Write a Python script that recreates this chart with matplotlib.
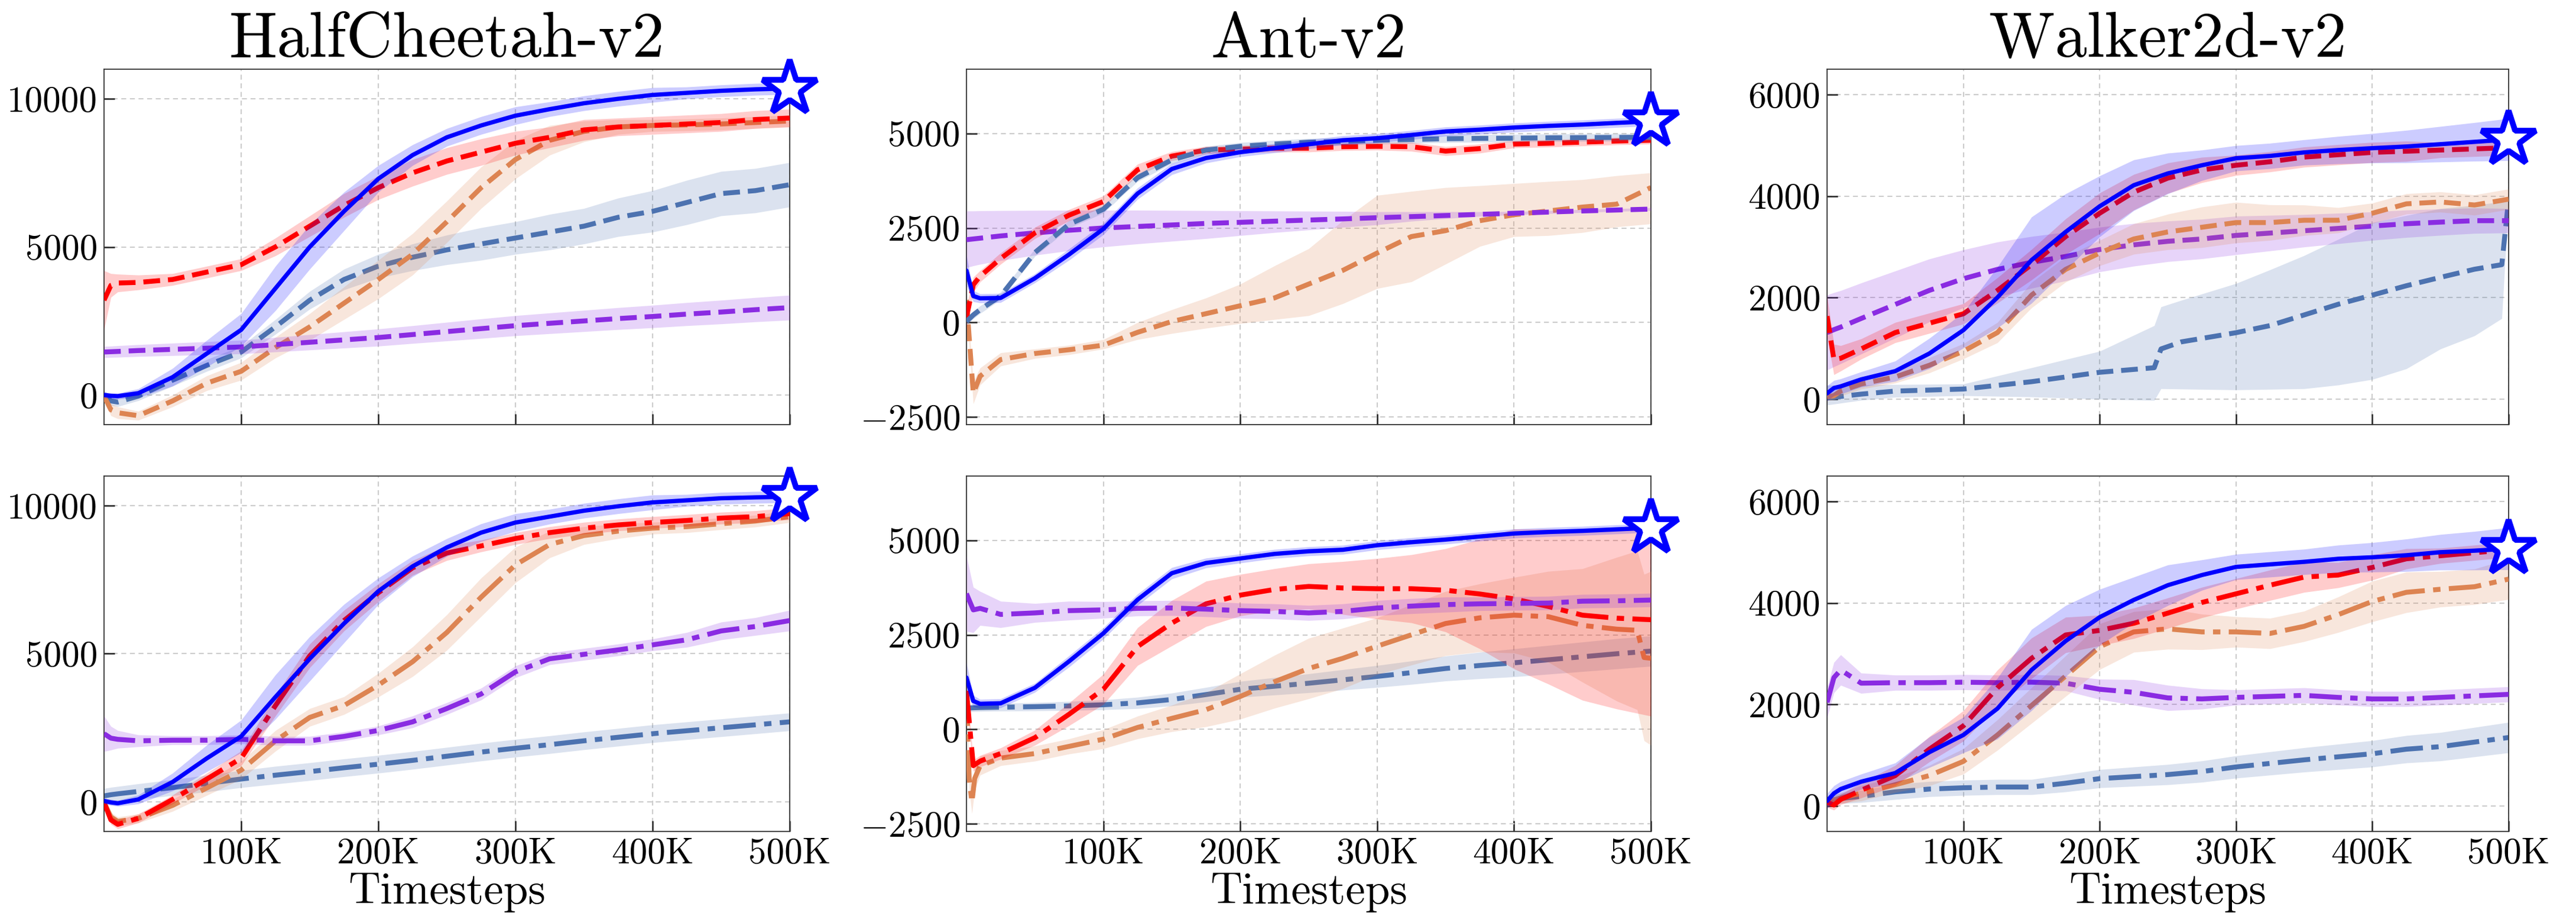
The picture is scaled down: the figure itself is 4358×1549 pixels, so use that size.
import numpy as np
import matplotlib
matplotlib.use("Agg")
import matplotlib.pyplot as plt

plt.rcParams.update({
    "font.family": "cmr10",
    "mathtext.fontset": "cm",
    "axes.unicode_minus": False,
})

# ---------------- data (x in thousands of timesteps) ----------------
G = [0, 5, 10, 25, 50, 75, 100, 125, 150, 175, 200, 225, 250, 275, 300, 325, 350, 375, 400, 425, 450, 475, 500]

TITLES = ["HalfCheetah-v2", "Ant-v2", "Walker2d-v2"]
XTICKS = [100, 200, 300, 400, 500]
XTICKLABELS = ["100K", "200K", "300K", "400K", "500K"]
HC_YTICKS = [0, 5000, 10000]
HC_YLABELS = ["0", "5000", "10000"]
AN_YTICKS = [-2500, 0, 2500, 5000]
AN_YLABELS = ["$-$2500", "0", "2500", "5000"]
WK_YTICKS = [0, 2000, 4000, 6000]
WK_YLABELS = ["0", "2000", "4000", "6000"]
HC_YLIM = (-1000, 11000)
AN_YLIM = (-2700, 6700)
WK_YLIM = (-500, 6500)

# HalfCheetah, top row
HC1_OURS = [0, -30, -40, 60, 600, 1400, 2200, 3600, 5000, 6200, 7300, 8100, 8700, 9100, 9430, 9650, 9850, 10000, 10130, 10200, 10270, 10320, 10350]
HC1_OURS_SD = [100, 100, 100, 150, 300, 450, 550, 750, 750, 650, 450, 350, 300, 300, 300, 250, 250, 250, 250, 200, 200, 200, 200]
HC1_RED = [3200, 3700, 3780, 3800, 3900, 4150, 4400, 5000, 5700, 6400, 7000, 7500, 7900, 8200, 8500, 8700, 8950, 9050, 9100, 9150, 9200, 9300, 9350]
HC1_RED_SD = [1000, 400, 300, 250, 200, 200, 200, 300, 350, 400, 400, 450, 450, 450, 400, 350, 350, 300, 300, 300, 300, 300, 300]
HC1_STEEL = [0, -200, -240, -40, 500, 1000, 1450, 2300, 3200, 3900, 4350, 4650, 4900, 5100, 5300, 5500, 5700, 6000, 6200, 6500, 6800, 6900, 7100]
HC1_STEEL_SD = [150, 150, 150, 150, 200, 200, 200, 250, 300, 350, 400, 450, 500, 550, 550, 600, 600, 650, 700, 750, 750, 750, 750]
HC1_ORANGE = [-40, -500, -600, -700, -200, 400, 800, 1600, 2300, 3100, 3900, 4750, 5850, 7000, 7950, 8600, 8900, 9050, 9100, 9120, 9150, 9200, 9250]
HC1_ORANGE_SD = [150, 200, 200, 150, 200, 250, 300, 350, 450, 550, 650, 700, 700, 700, 650, 500, 350, 250, 200, 200, 200, 200, 200]
HC1_PURPLE = [1450, 1460, 1470, 1500, 1540, 1580, 1620, 1700, 1780, 1860, 1940, 2040, 2140, 2240, 2340, 2420, 2500, 2580, 2650, 2730, 2800, 2880, 2950]
HC1_PURPLE_SD = [190, 190, 195, 200, 210, 220, 230, 245, 260, 275, 290, 300, 315, 330, 340, 350, 360, 370, 380, 390, 400, 410, 420]

# HalfCheetah, bottom row
HC2_OURS = [30, -20, -50, 80, 670, 1470, 2210, 3540, 4830, 6020, 7110, 7950, 8590, 9090, 9430, 9630, 9830, 9980, 10110, 10180, 10250, 10280, 10300]
HC2_OURS_SD = [100, 100, 100, 150, 300, 450, 550, 750, 750, 650, 450, 350, 300, 300, 300, 250, 250, 250, 250, 200, 200, 200, 200]
HC2_RED = [-20, -610, -760, -560, 80, 770, 1470, 3250, 4930, 6120, 7060, 7900, 8400, 8640, 8890, 9090, 9240, 9350, 9430, 9500, 9580, 9630, 9730]
HC2_RED_SD = [100, 150, 150, 150, 150, 200, 250, 350, 400, 350, 300, 250, 250, 200, 200, 200, 200, 200, 200, 200, 200, 200, 200]
HC2_STEEL = [200, 240, 270, 350, 480, 620, 770, 900, 1020, 1150, 1270, 1400, 1540, 1680, 1810, 1930, 2060, 2180, 2300, 2400, 2500, 2600, 2700]
HC2_STEEL_SD = [250, 250, 250, 260, 270, 280, 290, 300, 300, 300, 300, 300, 300, 300, 300, 300, 300, 300, 300, 300, 300, 300, 300]
HC2_ORANGE = [-20, -510, -660, -560, -120, 470, 1070, 2060, 2850, 3250, 3940, 4730, 5720, 6910, 8000, 8690, 8990, 9140, 9240, 9290, 9390, 9480, 9630]
HC2_ORANGE_SD = [100, 150, 150, 150, 200, 250, 300, 350, 300, 300, 400, 500, 600, 650, 600, 450, 300, 250, 200, 200, 200, 200, 200]
HC2_PURPLE = [2300, 2150, 2110, 2060, 2080, 2080, 2110, 2060, 2060, 2210, 2410, 2700, 3150, 3640, 4390, 4830, 4980, 5130, 5300, 5470, 5770, 5920, 6120]
HC2_PURPLE_SD = [600, 400, 300, 200, 150, 150, 150, 150, 150, 150, 150, 200, 200, 200, 200, 200, 200, 200, 200, 250, 300, 300, 350]

# Ant, top row
AN1_OURS = [1375, 700, 640, 650, 1170, 1800, 2475, 3410, 4060, 4350, 4505, 4610, 4715, 4820, 4875, 4960, 5053, 5100, 5157, 5200, 5235, 5280, 5320]
AN1_OURS_SD = [400, 150, 120, 120, 120, 150, 150, 150, 150, 130, 120, 120, 120, 120, 120, 120, 120, 120, 120, 120, 120, 120, 120]
AN1_RED = [130, 1000, 1224, 1693, 2370, 2840, 3200, 4040, 4400, 4560, 4585, 4610, 4610, 4650, 4660, 4650, 4533, 4600, 4720, 4740, 4770, 4800, 4820]
AN1_RED_SD = [300, 200, 150, 150, 150, 150, 150, 150, 120, 100, 100, 100, 100, 100, 100, 120, 120, 120, 100, 100, 100, 100, 100]
AN1_STEEL = [26, 200, 340, 703, 1850, 2600, 2995, 3830, 4300, 4560, 4660, 4720, 4770, 4790, 4820, 4840, 4860, 4870, 4875, 4885, 4890, 4895, 4900]
AN1_STEEL_SD = [100, 100, 100, 100, 100, 100, 100, 100, 100, 100, 100, 100, 100, 100, 100, 100, 100, 100, 100, 100, 100, 100, 100]
AN1_ORANGE = [600, -1870, -1420, -980, -820, -720, -600, -260, 26, 234, 443, 650, 1016, 1380, 1837, 2273, 2430, 2693, 2850, 2950, 3053, 3130, 3570]
AN1_ORANGE_LO = [300, -2150, -1650, -1150, -950, -850, -700, -450, -290, -150, -26, 80, 182, 500, 900, 1077, 1545, 2013, 2273, 2300, 2380, 2530, 2610]
AN1_ORANGE_HI = [900, -1550, -1200, -800, -700, -600, -450, 0, 340, 650, 1016, 1500, 1954, 2700, 3364, 3470, 3570, 3620, 3676, 3730, 3780, 3884, 3960]
AN1_PURPLE = [2190, 2210, 2230, 2290, 2370, 2440, 2500, 2540, 2580, 2620, 2650, 2680, 2710, 2740, 2772, 2800, 2830, 2860, 2890, 2920, 2950, 2975, 3000]
AN1_PURPLE_LO = [1450, 1500, 1540, 1640, 1780, 1900, 2000, 2080, 2150, 2220, 2300, 2380, 2450, 2520, 2585, 2680, 2750, 2810, 2850, 2880, 2910, 2940, 2960]
AN1_PURPLE_HI = [2950, 2950, 2955, 2960, 2965, 2970, 2970, 2970, 2965, 2960, 2955, 2950, 2945, 2940, 2930, 2930, 2930, 2930, 2935, 2960, 2990, 3010, 3040]

# Ant, bottom row
AN2_OURS = [1370, 750, 675, 690, 1100, 1800, 2540, 3430, 4130, 4400, 4520, 4640, 4710, 4750, 4870, 4950, 5020, 5100, 5180, 5220, 5250, 5290, 5330]
AN2_OURS_SD = [400, 150, 120, 120, 120, 150, 150, 150, 150, 130, 120, 120, 120, 120, 120, 120, 120, 120, 120, 120, 120, 120, 120]
AN2_RED = [1020, -960, -840, -640, -220, 400, 1060, 2190, 2810, 3320, 3550, 3700, 3780, 3740, 3720, 3720, 3680, 3580, 3450, 3250, 3020, 2940, 2900]
AN2_RED_SD = [200, 150, 150, 150, 200, 300, 400, 500, 600, 600, 550, 550, 600, 700, 800, 900, 1100, 1450, 1850, 2050, 2250, 2400, 2550]
AN2_STEEL = [560, 570, 575, 585, 600, 620, 650, 700, 790, 920, 1060, 1140, 1220, 1310, 1400, 1500, 1610, 1690, 1760, 1840, 1920, 2000, 2070]
AN2_STEEL_SD = [100, 100, 100, 100, 110, 120, 130, 150, 170, 190, 210, 230, 250, 270, 290, 310, 330, 350, 370, 380, 390, 400, 400]
AN2_ORANGE_X = [0, 2, 4, 6, 10, 25, 50, 75, 100, 125, 150, 175, 200, 225, 250, 275, 300, 325, 350, 375, 400, 425, 450, 475, 490, 495, 500]
AN2_ORANGE = [950, -1300, -1930, -1300, -960, -760, -640, -450, -260, 50, 290, 520, 870, 1260, 1610, 1880, 2200, 2500, 2800, 2950, 3020, 2980, 2750, 2650, 2620, 1900, 1880]
AN2_ORANGE_SD = [300, 300, 300, 300, 250, 200, 200, 200, 250, 300, 350, 450, 600, 700, 800, 800, 750, 800, 850, 900, 1000, 1200, 1500, 1900, 2100, 2200, 2300]
AN2_PURPLE = [3590, 3160, 3200, 3040, 3080, 3140, 3160, 3200, 3210, 3180, 3140, 3120, 3080, 3120, 3210, 3260, 3300, 3320, 3330, 3340, 3390, 3400, 3420]
AN2_PURPLE_SD = [1000, 600, 450, 350, 250, 250, 220, 200, 200, 200, 200, 200, 200, 200, 200, 200, 200, 180, 180, 180, 180, 180, 180]

# Walker2d, top row
WK1_OURS = [115, 220, 253, 390, 553, 900, 1360, 2005, 2740, 3295, 3800, 4215, 4447, 4608, 4746, 4792, 4861, 4907, 4944, 4977, 5023, 5069, 5115]
WK1_OURS_SD = [150, 150, 150, 150, 200, 300, 350, 600, 850, 750, 600, 500, 400, 300, 250, 250, 250, 270, 290, 320, 350, 380, 415]
WK1_RED = [1635, 783, 806, 990, 1313, 1497, 1682, 2143, 2650, 3203, 3663, 4078, 4355, 4516, 4608, 4677, 4769, 4815, 4861, 4884, 4907, 4930, 4954]
WK1_RED_SD = [400, 300, 250, 200, 200, 200, 200, 250, 300, 350, 400, 350, 300, 250, 200, 200, 200, 200, 200, 200, 150, 150, 150]
WK1_STEEL_X = [0, 25, 50, 100, 150, 200, 240, 245, 260, 300, 325, 350, 375, 400, 425, 450, 475, 495, 500]
WK1_STEEL = [23, 100, 160, 200, 345, 530, 620, 990, 1130, 1310, 1450, 1660, 1870, 2050, 2235, 2400, 2560, 2650, 3940]
WK1_STEEL_LO = [-115, -20, 40, 70, 46, 0, -23, 207, 200, 184, 195, 207, 280, 390, 600, 990, 1250, 1590, 3940]
WK1_STEEL_HI = [276, 280, 290, 300, 620, 945, 1450, 1820, 1950, 2280, 2550, 2830, 3150, 3480, 3620, 3755, 3820, 3890, 3940]
WK1_ORANGE = [46, 69, 161, 300, 438, 668, 945, 1313, 2050, 2557, 2880, 3156, 3295, 3387, 3479, 3479, 3525, 3525, 3663, 3848, 3885, 3825, 3940]
WK1_ORANGE_SD = [80, 80, 100, 100, 120, 150, 150, 200, 250, 250, 250, 300, 350, 400, 400, 350, 300, 250, 200, 200, 200, 200, 200]
WK1_PURPLE = [1313, 1370, 1420, 1590, 1866, 2143, 2373, 2557, 2696, 2811, 2949, 3041, 3110, 3156, 3226, 3272, 3318, 3364, 3410, 3456, 3488, 3516, 3516]
WK1_PURPLE_SD = [740, 730, 720, 700, 660, 620, 570, 540, 510, 480, 440, 420, 400, 390, 380, 350, 320, 300, 280, 270, 260, 250, 240]

# Walker2d, bottom row
WK2_OURS = [100, 250, 335, 480, 650, 1060, 1400, 1920, 2680, 3250, 3720, 4060, 4350, 4550, 4710, 4760, 4810, 4870, 4900, 4940, 5000, 5030, 5070]
WK2_OURS_SD = [150, 150, 150, 150, 200, 300, 350, 600, 800, 700, 550, 450, 400, 300, 250, 250, 250, 270, 290, 320, 350, 380, 415]
WK2_RED = [75, 20, 130, 310, 600, 1120, 1580, 2330, 2910, 3370, 3460, 3600, 3800, 4010, 4180, 4350, 4510, 4550, 4700, 4870, 4930, 4990, 5050]
WK2_RED_SD = [100, 100, 100, 150, 200, 250, 300, 350, 400, 350, 300, 300, 300, 300, 300, 300, 300, 250, 250, 200, 150, 150, 150]
WK2_STEEL = [75, 120, 150, 190, 280, 335, 360, 375, 375, 450, 540, 580, 620, 680, 770, 840, 910, 970, 1030, 1120, 1170, 1260, 1350]
WK2_STEEL_SD = [100, 100, 100, 120, 150, 150, 150, 150, 150, 170, 180, 190, 200, 210, 220, 230, 240, 250, 260, 270, 280, 290, 300]
WK2_ORANGE = [75, 120, 160, 250, 420, 600, 880, 1400, 1980, 2560, 3140, 3430, 3490, 3430, 3430, 3400, 3540, 3770, 4030, 4210, 4270, 4320, 4470]
WK2_ORANGE_SD = [80, 100, 100, 150, 150, 200, 250, 300, 350, 400, 450, 400, 400, 350, 300, 300, 300, 350, 400, 400, 350, 350, 400]
WK2_PURPLE = [2040, 2530, 2680, 2420, 2430, 2430, 2440, 2430, 2440, 2420, 2300, 2240, 2130, 2110, 2140, 2160, 2180, 2140, 2110, 2110, 2140, 2170, 2200]
WK2_PURPLE_SD = [300, 300, 300, 200, 150, 150, 150, 150, 150, 150, 200, 250, 250, 200, 150, 150, 150, 150, 150, 150, 150, 150, 150]

# ---------------- styles ----------------
C_OURS = "#0000ff"
C_RED = "#ff0000"
C_STEEL = "#4c72b0"
C_ORANGE = "#dd8452"
C_PURPLE = "#8a2be2"
LW_SOLID = 5.2
LW_DASH = 6.0
DASH = (0, (3.4, 1.6))
DASHDOT = (0, (6.6, 1.7, 1.5, 1.7))

W, H = 4358, 1549
fig = plt.figure(figsize=(W / 100, H / 100), dpi=100)

col_left = [176, 1635, 3091]
col_w = [1160, 1158, 1153]
row_top = [117, 805]
ax_h = 601


def band(ax, x, mean, lo, hi, color, ls, lw, z):
    xs = np.asarray(x, float) * 1000
    ax.fill_between(xs, lo, hi, color=color, alpha=0.2, lw=0, zorder=z)
    ax.plot(xs, mean, color=color, lw=lw, linestyle=ls, zorder=z + 0.5,
            dash_capstyle="butt", solid_capstyle="round")


def sd(mean, s):
    m = np.asarray(mean, float)
    s = np.asarray(s, float)
    return m - s, m + s


panels = [
    (0, 0, HC_YLIM, HC_YTICKS, HC_YLABELS, [
        (G, HC1_STEEL, *sd(HC1_STEEL, HC1_STEEL_SD), C_STEEL),
        (G, HC1_ORANGE, *sd(HC1_ORANGE, HC1_ORANGE_SD), C_ORANGE),
        (G, HC1_PURPLE, *sd(HC1_PURPLE, HC1_PURPLE_SD), C_PURPLE),
        (G, HC1_RED, *sd(HC1_RED, HC1_RED_SD), C_RED),
    ], (G, HC1_OURS, HC1_OURS_SD)),
    (0, 1, AN_YLIM, AN_YTICKS, AN_YLABELS, [
        (G, AN1_ORANGE, AN1_ORANGE_LO, AN1_ORANGE_HI, C_ORANGE),
        (G, AN1_PURPLE, AN1_PURPLE_LO, AN1_PURPLE_HI, C_PURPLE),
        (G, AN1_RED, *sd(AN1_RED, AN1_RED_SD), C_RED),
        (G, AN1_STEEL, *sd(AN1_STEEL, AN1_STEEL_SD), C_STEEL),
    ], (G, AN1_OURS, AN1_OURS_SD)),
    (0, 2, WK_YLIM, WK_YTICKS, WK_YLABELS, [
        (WK1_STEEL_X, WK1_STEEL, WK1_STEEL_LO, WK1_STEEL_HI, C_STEEL),
        (G, WK1_PURPLE, *sd(WK1_PURPLE, WK1_PURPLE_SD), C_PURPLE),
        (G, WK1_ORANGE, *sd(WK1_ORANGE, WK1_ORANGE_SD), C_ORANGE),
        (G, WK1_RED, *sd(WK1_RED, WK1_RED_SD), C_RED),
    ], (G, WK1_OURS, WK1_OURS_SD)),
    (1, 0, HC_YLIM, HC_YTICKS, HC_YLABELS, [
        (G, HC2_STEEL, *sd(HC2_STEEL, HC2_STEEL_SD), C_STEEL),
        (G, HC2_ORANGE, *sd(HC2_ORANGE, HC2_ORANGE_SD), C_ORANGE),
        (G, HC2_PURPLE, *sd(HC2_PURPLE, HC2_PURPLE_SD), C_PURPLE),
        (G, HC2_RED, *sd(HC2_RED, HC2_RED_SD), C_RED),
    ], (G, HC2_OURS, HC2_OURS_SD)),
    (1, 1, AN_YLIM, AN_YTICKS, AN_YLABELS, [
        (G, AN2_STEEL, *sd(AN2_STEEL, AN2_STEEL_SD), C_STEEL),
        (AN2_ORANGE_X, AN2_ORANGE, *sd(AN2_ORANGE, AN2_ORANGE_SD), C_ORANGE),
        (G, AN2_RED, *sd(AN2_RED, AN2_RED_SD), C_RED),
        (G, AN2_PURPLE, *sd(AN2_PURPLE, AN2_PURPLE_SD), C_PURPLE),
    ], (G, AN2_OURS, AN2_OURS_SD)),
    (1, 2, WK_YLIM, WK_YTICKS, WK_YLABELS, [
        (G, WK2_STEEL, *sd(WK2_STEEL, WK2_STEEL_SD), C_STEEL),
        (G, WK2_PURPLE, *sd(WK2_PURPLE, WK2_PURPLE_SD), C_PURPLE),
        (G, WK2_ORANGE, *sd(WK2_ORANGE, WK2_ORANGE_SD), C_ORANGE),
        (G, WK2_RED, *sd(WK2_RED, WK2_RED_SD), C_RED),
    ], (G, WK2_OURS, WK2_OURS_SD)),
]

for row, col, ylim, yt, yl, series, ours in panels:
    left = col_left[col] / W
    bottom = 1 - (row_top[row] + ax_h) / H
    ax = fig.add_axes([left, bottom, col_w[col] / W, ax_h / H])
    ls = DASH if row == 0 else DASHDOT
    for i, (x, m, lo, hi, c) in enumerate(series):
        band(ax, x, m, lo, hi, c, ls, LW_DASH, 2 + i)
    ox, om, osd = ours
    lo, hi = sd(om, osd)
    band(ax, ox, om, lo, hi, C_OURS, "-", LW_SOLID, 8)
    ax.plot([ox[-1] * 1000], [om[-1]], marker="*", markersize=70,
            markerfacecolor="white", markeredgecolor=C_OURS, markeredgewidth=7,
            clip_on=False, zorder=20)

    ax.set_xlim(0, 500000)
    ax.set_ylim(*ylim)
    ax.set_xticks([t * 1000 for t in XTICKS])
    ax.set_yticks(yt)
    ax.set_yticklabels(yl)
    if row == 1:
        ax.set_xticklabels(XTICKLABELS)
        ax.set_xlabel("Timesteps", fontsize=54, labelpad=2)
    else:
        ax.set_xticklabels([])
        ax.set_title(TITLES[col], fontsize=78, pad=12)
    ax.tick_params(axis="both", direction="in", length=13, width=1.8,
                   labelsize=44, color="#222222", pad=8)
    ax.grid(True, linestyle=(0, (4, 3)), linewidth=1.5, color="#cccccc", zorder=0)
    ax.set_axisbelow(True)
    for sp in ax.spines.values():
        sp.set_color("#333333")
        sp.set_linewidth(1.3)

fig.savefig("out.png", dpi=100, facecolor="white")
